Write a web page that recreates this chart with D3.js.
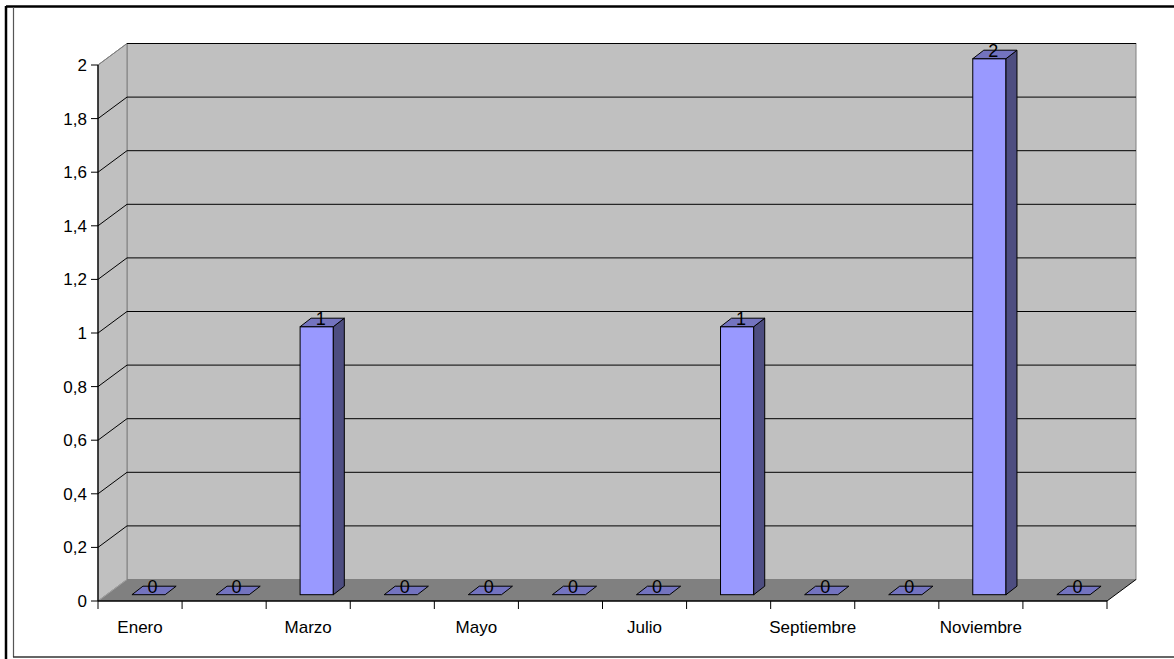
<html>

<head>
    <script src="https://cdnjs.cloudflare.com/ajax/libs/d3/7.8.5/d3.min.js"></script>
    <style>
        body { margin: 0; background: white; }
    </style>
</head>

<body>
    <script>
        const months = ['Enero', 'Febrero', 'Marzo', 'Abril', 'Mayo', 'Junio',
            'Julio', 'Agosto', 'Septiembre', 'Octubre', 'Noviembre', 'Diciembre'];
        const values = [0, 0, 1, 0, 0, 0, 0, 1, 0, 0, 2, 0];
        const yTicks = [0, 0.2, 0.4, 0.6, 0.8, 1, 1.2, 1.4, 1.6, 1.8, 2];

        const width = 1174;
        const height = 659;
        const font = 'Arial, "Liberation Sans", sans-serif';

        // 3d offsets
        const depth = { dx: 29, dy: -21.5 };   // floor / wall depth
        const barPos = { dx: 8.5, dy: -6.3 };  // where the bar front face sits
        const barDepth = { dx: 11, dy: -8.5 }; // bar thickness

        const svg = d3.select('body').append('svg')
            .attr('width', width)
            .attr('height', height);

        // frame
        svg.append('line').attr('x1', 6).attr('y1', 6.5).attr('x2', width).attr('y2', 6.5)
            .style('stroke', 'black').style('stroke-width', 2.5);
        svg.append('line').attr('x1', 6).attr('y1', 6).attr('x2', 6).attr('y2', height)
            .style('stroke', 'black').style('stroke-width', 2.5);
        svg.append('line').attr('x1', 13.5).attr('y1', 7).attr('x2', 13.5).attr('y2', 657)
            .style('stroke', '#555').style('stroke-width', 1.2);
        svg.append('line').attr('x1', 13).attr('y1', 657).attr('x2', width).attr('y2', 657)
            .style('stroke', '#333').style('stroke-width', 1.5);

        const x = d3.scaleBand()
            .domain(months)
            .range([98, 1107])
            .paddingInner(0)
            .paddingOuter(0);

        const y = d3.scaleLinear()
            .domain([0, 2])
            .range([601, 65]);

        const x0 = x.range()[0];
        const x1 = x.range()[1];
        const yTop = y(2);
        const yBot = y(0);

        const pts = p => p.map(d => d.join(',')).join(' ');

        // back wall
        svg.append('rect')
            .attr('x', x0 + depth.dx).attr('y', yTop + depth.dy)
            .attr('width', x1 - x0).attr('height', yBot - yTop)
            .style('fill', '#c0c0c0').style('stroke', '#808080');

        // side wall
        svg.append('polygon')
            .attr('points', pts([[x0, yTop], [x0 + depth.dx, yTop + depth.dy],
                [x0 + depth.dx, yBot + depth.dy], [x0, yBot]]))
            .style('fill', '#c0c0c0').style('stroke', '#808080');

        // floor
        svg.append('polygon')
            .attr('points', pts([[x0, yBot], [x0 + depth.dx, yBot + depth.dy],
                [x1 + depth.dx, yBot + depth.dy], [x1, yBot]]))
            .style('fill', '#808080').style('stroke', 'none');
        svg.append('line')
            .attr('x1', x1).attr('y1', yBot).attr('x2', x1 + depth.dx).attr('y2', yBot + depth.dy)
            .style('stroke', 'black');
        svg.append('line')
            .attr('x1', x0).attr('y1', yBot).attr('x2', x0 + depth.dx).attr('y2', yBot + depth.dy)
            .style('stroke', '#a0a0a0');

        // gridlines
        const grid = svg.append('g');
        yTicks.filter(t => t > 0).forEach(t => {
            grid.append('line')
                .attr('x1', x0 + depth.dx).attr('x2', x1 + depth.dx)
                .attr('y1', y(t) + depth.dy).attr('y2', y(t) + depth.dy)
                .style('stroke', 'black');
            grid.append('line')
                .attr('x1', x0).attr('x2', x0 + depth.dx)
                .attr('y1', y(t)).attr('y2', y(t) + depth.dy)
                .style('stroke', t === 2 ? '#808080' : 'black');
        });

        // bars
        const bw = x.bandwidth() * 0.395;
        const bars = svg.append('g').selectAll('g')
            .data(months.map((m, i) => ({ m, v: values[i] })))
            .enter().append('g');

        bars.each(function (d) {
            const g = d3.select(this);
            const left = x(d.m) + (x.bandwidth() - bw) / 2 + barPos.dx;
            const right = left + bw;
            const top = y(d.v) + barPos.dy;
            const bottom = y(0) + barPos.dy;
            if (d.v > 0) {
                g.append('rect')
                    .attr('x', left).attr('y', top)
                    .attr('width', bw).attr('height', bottom - top)
                    .style('fill', '#9999ff').style('stroke', 'black');
                g.append('polygon')
                    .attr('points', pts([[right, top], [right + barDepth.dx, top + barDepth.dy],
                        [right + barDepth.dx, bottom + barDepth.dy], [right, bottom]]))
                    .style('fill', '#4d4d80').style('stroke', 'black');
            }
            g.append('polygon')
                .attr('points', pts([[left, top], [left + barDepth.dx, top + barDepth.dy],
                    [right + barDepth.dx, top + barDepth.dy], [right, top]]))
                .style('fill', '#7373bf').style('stroke', 'black');
            g.append('text')
                .attr('x', (left + right + barDepth.dx) / 2 - 1.5)
                .attr('y', top + barDepth.dy / 2 + 3)
                .attr('text-anchor', 'middle')
                .attr('font-family', font)
                .attr('font-size', 18)
                .text(d.v);
        });

        // value axis
        svg.append('line')
            .attr('x1', x0).attr('x2', x0).attr('y1', yTop).attr('y2', yBot)
            .style('stroke', 'black').style('stroke-width', 1.3);
        const yAxis = svg.append('g');
        yTicks.forEach(t => {
            yAxis.append('line')
                .attr('x1', x0 - 7).attr('x2', x0).attr('y1', y(t)).attr('y2', y(t))
                .style('stroke', 'black');
            yAxis.append('text')
                .attr('x', x0 - 11).attr('y', y(t) + 6)
                .attr('text-anchor', 'end')
                .attr('font-family', font)
                .attr('font-size', 17)
                .text(String(t).replace('.', ','));
        });

        // category axis
        svg.append('line')
            .attr('x1', x0).attr('x2', x1).attr('y1', yBot).attr('y2', yBot)
            .style('stroke', 'black').style('stroke-width', 1.3);
        const xAxis = svg.append('g');
        months.forEach((m, i) => {
            xAxis.append('line')
                .attr('x1', x(m)).attr('x2', x(m)).attr('y1', yBot).attr('y2', yBot + 8)
                .style('stroke', 'black');
            if (i % 2 === 0) {
                xAxis.append('text')
                    .attr('x', x(m) + x.bandwidth() / 2)
                    .attr('y', 633)
                    .attr('text-anchor', 'middle')
                    .attr('font-family', font)
                    .attr('font-size', 17)
                    .text(m);
            }
        });
        xAxis.append('line')
            .attr('x1', x1).attr('x2', x1).attr('y1', yBot).attr('y2', yBot + 8)
            .style('stroke', 'black');
    </script>
</body>

</html>
